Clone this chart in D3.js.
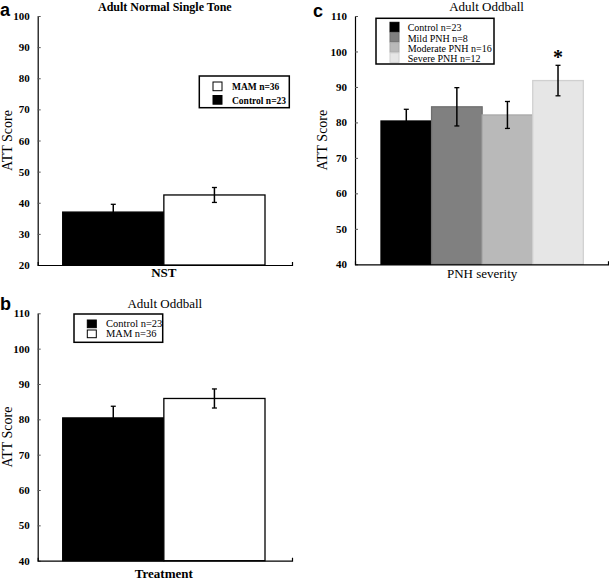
<!DOCTYPE html>
<html>
<head>
<meta charset="utf-8">
<script src="https://cdn.jsdelivr.net/npm/d3@7"></script>
<style>
  body { margin: 0; background: #fff; }
  svg text { font-family: "Liberation Serif", "Times New Roman", serif; fill: #000; }
  .tick text { font-family: "Liberation Serif", "Times New Roman", serif; font-weight: bold; font-size: 11px; }
  .tick line { stroke: #555; }
  .domain { stroke: #000; stroke-width: 1.2; }
  .letter { font-family: "Liberation Sans", Arial, sans-serif !important; font-weight: bold; font-size: 18px; }
</style>
</head>
<body>
<div id="chart"></div>
<script>
// panel a : Adult Normal Single Tone
var groupsA = ["Control n=23", "MAM n=36"];
var valuesA = [37.0, 42.5];
var errA = [2.5, 2.4];
var ticksA = [20, 30, 40, 50, 60, 70, 80, 90, 100];

// panel b : Adult Oddball
var groupsB = ["Control n=23", "MAM n=36"];
var valuesB = [80.4, 85.9];
var errB = [3.3, 2.7];
var ticksB = [40, 50, 60, 70, 80, 90, 100, 110];

// panel c : Adult Oddball by PNH severity
var groupsC = ["Control n=23", "Mild PNH n=8", "Moderate PNH n=16", "Severe PNH n=12"];
var valuesC = [80.4, 84.4, 82.1, 91.8];
var errC = [3.3, 5.4, 3.8, 4.3];
var ticksC = [40, 50, 60, 70, 80, 90, 100, 110];

var serif = '"Liberation Serif", "Times New Roman", serif';

var svg = d3.select("#chart").append("svg")
    .attr("width", 609)
    .attr("height", 580);

function drawPanel(p) {
    var g = svg.append("g");
    var y = d3.scaleLinear().domain([p.ticks[0], p.ticks[p.ticks.length - 1]]).range([p.y1, p.y0]);
    var x = d3.scaleBand().domain(p.groups).range([p.bx0, p.bx1]).padding(0);

    // bars
    g.selectAll(".bar").data(p.groups).enter()
        .append("rect")
        .attr("x", function(d) { return x(d); })
        .attr("width", x.bandwidth())
        .attr("y", function(d, i) { return y(p.values[i]); })
        .attr("height", function(d, i) { return y(p.ticks[0]) - y(p.values[i]); })
        .style("fill", function(d, i) { return p.fills[i]; })
        .style("stroke", function(d, i) { return p.strokes[i]; })
        .style("stroke-width", 1.3);

    // error bars
    var eb = g.selectAll(".err").data(p.groups).enter().append("g");
    eb.append("line")
        .attr("x1", function(d) { return x(d) + x.bandwidth() / 2; })
        .attr("x2", function(d) { return x(d) + x.bandwidth() / 2; })
        .attr("y1", function(d, i) { return y(p.values[i] + p.err[i]); })
        .attr("y2", function(d, i) { return y(p.values[i] - p.err[i]); })
        .style("stroke", "#000").style("stroke-width", 1.5);
    [1, -1].forEach(function(s) {
        eb.append("line")
            .attr("x1", function(d) { return x(d) + x.bandwidth() / 2 - 2.5; })
            .attr("x2", function(d) { return x(d) + x.bandwidth() / 2 + 2.5; })
            .attr("y1", function(d, i) { return y(p.values[i] + s * p.err[i]); })
            .attr("y2", function(d, i) { return y(p.values[i] + s * p.err[i]); })
            .style("stroke", "#000").style("stroke-width", 1.3);
    });

    // axes
    g.append("g")
        .attr("transform", "translate(" + p.ax + ",0)")
        .call(d3.axisLeft(y).tickValues(p.ticks).tickSize(-3).tickPadding(8).tickSizeOuter(0))
        .attr("font-family", serif).attr("font-size", 11);
    var xl = d3.scaleLinear().range([p.ax, p.axEnd]);
    g.append("g")
        .attr("transform", "translate(0," + p.y1 + ")")
        .call(d3.axisBottom(xl).tickValues([]).tickSizeOuter(-3));

    // texts
    g.append("text").attr("x", (p.ax + p.axEnd) / 2 + p.titleDx).attr("y", p.y0 - 5)
        .attr("text-anchor", "middle").style("font-family", serif).style("font-size", p.titleBold ? "12px" : "13px")
        .style("font-weight", p.titleBold ? "bold" : "normal").text(p.title);
    g.append("text").attr("x", (p.bx0 + p.bx1) / 2).attr("y", p.y1 + p.xly)
        .attr("text-anchor", "middle").style("font-family", serif).style("font-size", "13px")
        .style("font-weight", p.xBold ? "bold" : "normal").text(p.xlabel);
    g.append("text")
        .attr("transform", "translate(" + p.ylx + "," + (p.y0 + p.y1) / 2 + ") rotate(-90)")
        .attr("text-anchor", "middle").style("font-family", serif).style("font-size", "14px").text("ATT Score");
    g.append("text").attr("class", "letter").attr("x", p.letterX).attr("y", p.letterY).text(p.letter);

    // legend
    var L = p.legend;
    g.append("rect").attr("x", L.x).attr("y", L.y).attr("width", L.w).attr("height", L.h)
        .style("fill", "#fff").style("stroke", "#000").style("stroke-width", 1.5);
    var items = g.selectAll(".leg").data(L.order).enter().append("g")
        .attr("transform", function(d, i) { return "translate(" + (L.x + L.sx) + "," + (L.y + L.sy + i * L.step) + ")"; });
    items.append("rect").attr("width", 9).attr("height", L.sh)
        .style("fill", function(d) { return p.fills[d]; })
        .style("stroke", function(d) { return p.strokes[d]; });
    items.append("text").attr("x", L.tx).attr("y", L.sh - 0.5)
        .style("font-family", serif)
        .style("font-size", L.fs).style("font-weight", L.bold ? "bold" : "normal")
        .text(function(d) { return p.groups[d]; });

    if (p.star != null) {
        var sx = x(p.groups[p.star]) + x.bandwidth() / 2;
        g.append("text").attr("x", sx).attr("y", y(p.values[p.star] + p.err[p.star]) - 1)
            .attr("text-anchor", "middle").style("font-family", serif)
            .style("font-size", "20px").style("font-weight", "bold").text("*");
    }
}

drawPanel({
    groups: groupsA, values: valuesA, err: errA, ticks: ticksA,
    fills: ["#000", "#fff"], strokes: ["#000", "#000"],
    y0: 16, y1: 265, ax: 37.7, axEnd: 292, bx0: 62.7, bx1: 265,
    title: "Adult Normal Single Tone", titleBold: true, titleDx: 0,
    xlabel: "NST", xBold: true, xly: 12, ylx: 12, letter: "a", letterX: 0, letterY: 16,
    legend: { x: 199.3, y: 76, w: 90, h: 31.7, sx: 13.7, sy: 6, step: 13.5, sh: 8.7, tx: 19, fs: "9.5px", bold: true, order: [1, 0] }
});

drawPanel({
    groups: groupsB, values: valuesB, err: errB, ticks: ticksB,
    fills: ["#000", "#fff"], strokes: ["#000", "#000"],
    y0: 313.3, y1: 560.7, ax: 37.7, axEnd: 292, bx0: 62.7, bx1: 265,
    title: "Adult Oddball", titleBold: false, titleDx: 0,
    xlabel: "Treatment", xBold: true, xly: 17, ylx: 12, letter: "b", letterX: 0, letterY: 310,
    legend: { x: 74, y: 314, w: 88.7, h: 28.3, sx: 13.3, sy: 6, step: 10, sh: 7.7, tx: 18.7, fs: "10.5px", bold: false, order: [0, 1] }
});

drawPanel({
    groups: groupsC, values: valuesC, err: errC, ticks: ticksC,
    fills: ["#000", "#808080", "#b9b9b9", "#e6e6e6"], strokes: ["#000", "#6f6f6f", "#a9a9a9", "#d0d0d0"],
    y0: 16, y1: 264.3, ax: 355, axEnd: 608, bx0: 381, bx1: 583.3,
    title: "Adult Oddball", titleBold: false, titleDx: 5,
    xlabel: "PNH severity", xBold: false, xly: 14, ylx: 327, letter: "c", letterX: 313, letterY: 17,
    legend: { x: 376, y: 18.3, w: 118, h: 45.7, sx: 14, sy: 4, step: 10.2, sh: 9.5, tx: 17.7, fs: "10px", bold: false, order: [0, 1, 2, 3] },
    star: 3
});
</script>
</body>
</html>
